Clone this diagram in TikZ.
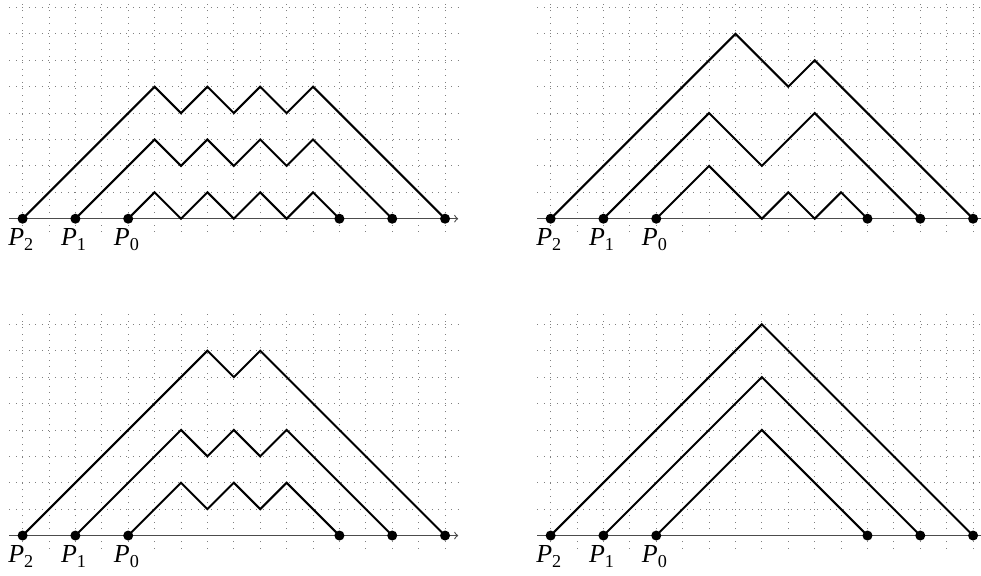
\documentclass[tikz,border=0pt]{standalone}
\usepackage{fontspec}
\newfontfamily\tms{Liberation Serif}
\tikzset{
  gridline/.style={black!50, line width=0.45pt, dash pattern=on 0.45pt off 3.05pt},
  axisline/.style={black!70, line width=0.6pt, ->},
  walk/.style={black, line width=1.1pt, line join=miter},
  enddot/.style={circle, fill=black, inner sep=0pt, minimum size=5.4pt},
  plabel/.style={anchor=base, inner sep=0pt, font=\tms\fontsize{14}{16}\selectfont},
}
\newcommand\plab[1]{{\itshape P}\raisebox{-2.8pt}{\fontsize{9.8}{11}\selectfont #1}}
\newcommand\panelbase{%
  \foreach \gx in {0,...,16} {\draw[gridline] (\gx,-0.5) -- (\gx,8.5);}
  \foreach \gy in {1,...,8} {\draw[gridline] (-0.5,\gy) -- (16.5,\gy);}
  \coordinate (ax0) at (-0.5,0);
  \coordinate (ax1) at (16.5,0);
  \draw[axisline] (ax0) -- (ax1);
  \node[enddot] (p2) at (0,0) {};
  \node[enddot] (p1) at (2,0) {};
  \node[enddot] (p0) at (4,0) {};
  \node[enddot] (q0) at (12,0) {};
  \node[enddot] (q1) at (14,0) {};
  \node[enddot] (q2) at (16,0) {};
  \node[plabel] (l2) at (-0.07,-1.02) {\plab{2}};
  \node[plabel] (l1) at (1.93,-1.02) {\plab{1}};
  \node[plabel] (l0) at (3.93,-1.02) {\plab{0}};
}
\begin{document}
\begin{tikzpicture}[x=0.5cm,y=0.5cm]
\useasboundingbox (-0.856,-13.496) rectangle (36.30,8.284);
% top left
\begin{scope}[shift={(0,0)}, name prefix=a-]
  \panelbase
  \draw[walk] (p0.center) -- (5,1) -- (6,0) -- (7,1) -- (8,0) -- (9,1) -- (10,0) -- (11,1) -- (q0.center);
  \draw[walk] (p1.center) -- (5,3) -- (6,2) -- (7,3) -- (8,2) -- (9,3) -- (10,2) -- (11,3) -- (q1.center);
  \draw[walk] (p2.center) -- (5,5) -- (6,4) -- (7,5) -- (8,4) -- (9,5) -- (10,4) -- (11,5) -- (q2.center);
\end{scope}
% top right
\begin{scope}[shift={(20,0)}, name prefix=b-]
  \panelbase
  \draw[walk] (p0.center) -- (6,2) -- (8,0) -- (9,1) -- (10,0) -- (11,1) -- (q0.center);
  \draw[walk] (p1.center) -- (6,4) -- (8,2) -- (10,4) -- (q1.center);
  \draw[walk] (p2.center) -- (7,7) -- (9,5) -- (10,6) -- (q2.center);
\end{scope}
% bottom left
\begin{scope}[shift={(0,-12)}, name prefix=c-]
  \panelbase
  \draw[walk] (p0.center) -- (6,2) -- (7,1) -- (8,2) -- (9,1) -- (10,2) -- (q0.center);
  \draw[walk] (p1.center) -- (6,4) -- (7,3) -- (8,4) -- (9,3) -- (10,4) -- (q1.center);
  \draw[walk] (p2.center) -- (7,7) -- (8,6) -- (9,7) -- (q2.center);
\end{scope}
% bottom right
\begin{scope}[shift={(20,-12)}, name prefix=d-]
  \panelbase
  \draw[walk] (p0.center) -- (8,4) -- (q0.center);
  \draw[walk] (p1.center) -- (8,6) -- (q1.center);
  \draw[walk] (p2.center) -- (8,8) -- (q2.center);
\end{scope}
\end{tikzpicture}
\end{document}
